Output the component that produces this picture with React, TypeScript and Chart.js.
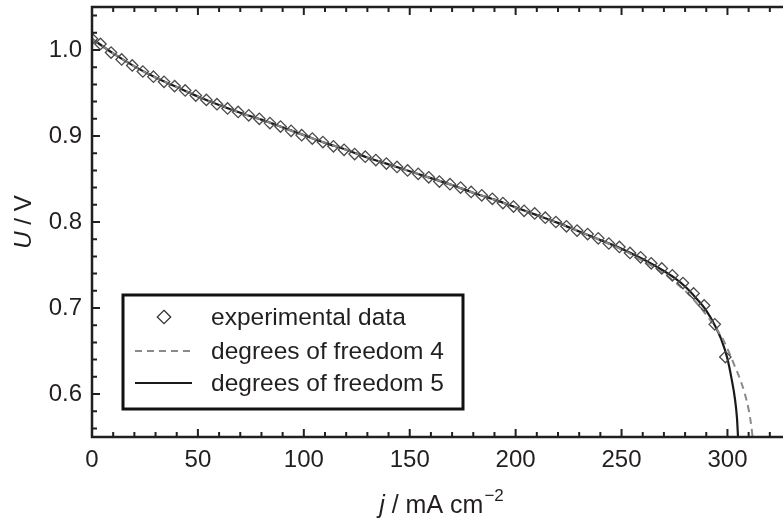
import React, { useEffect, useRef } from 'react';
import { Chart, registerables } from 'chart.js';

Chart.register(...registerables);

// ---------- data ----------
const expJ = [
  0, 4, 9, 14, 19, 24, 29, 34, 39, 44, 49, 54, 59, 64, 69, 74, 79, 84, 89, 94,
  99, 104, 109, 114, 119, 124, 129, 134, 139, 144, 149, 154, 159, 164, 169, 174,
  179, 184, 189, 194, 199, 204, 209, 214, 219, 224, 229, 234, 239, 244, 249, 254,
  259, 264, 269, 274, 279, 284, 289, 294, 299,
];
const expU = [
  1.013, 1.007, 0.997, 0.989, 0.982, 0.975, 0.969, 0.963, 0.958, 0.953, 0.947,
  0.942, 0.937, 0.932, 0.928, 0.924, 0.92, 0.915, 0.911, 0.906, 0.901, 0.897,
  0.893, 0.888, 0.884, 0.879, 0.876, 0.872, 0.868, 0.864, 0.86, 0.856, 0.852,
  0.847, 0.844, 0.84, 0.835, 0.831, 0.827, 0.822, 0.818, 0.813, 0.81, 0.805,
  0.8, 0.795, 0.79, 0.786, 0.781, 0.775, 0.771, 0.764, 0.759, 0.752, 0.746,
  0.738, 0.729, 0.717, 0.703, 0.681, 0.643,
];

const dof4J = [
  0, 10, 20, 30, 40, 50, 60, 70, 80, 90, 100, 110, 120, 130, 140, 150, 160, 170,
  180, 190, 200, 210, 220, 230, 240, 250, 260, 270, 280, 285, 290, 295, 298, 301,
  303, 306, 308, 310, 311.3, 312.3,
];
const dof4U = [
  1.013, 0.996, 0.981, 0.968, 0.957, 0.946, 0.936, 0.927, 0.919, 0.91, 0.901,
  0.892, 0.884, 0.875, 0.867, 0.859, 0.851, 0.843, 0.834, 0.826, 0.817, 0.808,
  0.799, 0.789, 0.779, 0.768, 0.755, 0.74, 0.72, 0.707, 0.692, 0.675, 0.663,
  0.647, 0.635, 0.617, 0.602, 0.582, 0.562, 0.54,
];

const dof5J = [
  0, 10, 20, 30, 40, 50, 60, 70, 80, 90, 100, 110, 120, 130, 140, 150, 160, 170,
  180, 190, 200, 210, 220, 230, 240, 250, 260, 270, 275, 280, 285, 290, 294, 297,
  300, 302, 303.5, 304.5, 305.2,
];
const dof5U = [
  1.013, 0.996, 0.981, 0.968, 0.957, 0.946, 0.936, 0.927, 0.919, 0.91, 0.901,
  0.892, 0.884, 0.875, 0.867, 0.859, 0.851, 0.843, 0.834, 0.826, 0.817, 0.808,
  0.799, 0.789, 0.779, 0.769, 0.757, 0.743, 0.735, 0.725, 0.712, 0.697, 0.68,
  0.664, 0.641, 0.617, 0.595, 0.572, 0.54,
];

const seriesLabels = ['experimental data', 'degrees of freedom 4', 'degrees of freedom 5'];
const xTickLabels = [0, 50, 100, 150, 200, 250, 300];
const yTickLabels = [0.6, 0.7, 0.8, 0.9, 1.0];
const xRange = [0, 330];
const yRange = [0.55, 1.05];
const xMinorStep = 10;
const yMinorStep = 0.02;
const yTitleParts = ['U', ' / V'];
const xTitleParts = ['j', ' / mA cm', '\u22122'];

// ---------- styles ----------
const FONT = '"Liberation Sans", Arial, Helvetica, sans-serif';
const INK = '#231f20';

const framePlugin = {
  id: 'frame',
  afterDatasetsDraw(chart: any) {
    const { ctx, chartArea: ca } = chart;
    const xs = chart.scales.x;
    const ys = chart.scales.y;
    ctx.save();
    ctx.strokeStyle = INK;
    ctx.lineWidth = 2.5;
    ctx.strokeRect(ca.left, ca.top, ca.right - ca.left, ca.bottom - ca.top);
    ctx.lineWidth = 2;
    ctx.beginPath();
    const nx = Math.round((xRange[1] - xRange[0]) / xMinorStep);
    for (let i = 1; i < nx; i++) {
      const v = xRange[0] + i * xMinorStep;
      const major = Math.abs(v % 50) < 1e-6;
      const len = major ? 8 : 5;
      const px = xs.getPixelForValue(v);
      ctx.moveTo(px, ca.bottom);
      ctx.lineTo(px, ca.bottom - len);
      ctx.moveTo(px, ca.top);
      ctx.lineTo(px, ca.top + len);
    }
    const ny = Math.round((yRange[1] - yRange[0]) / yMinorStep);
    for (let i = 0; i <= ny; i++) {
      const v = yRange[0] + 0.01 + i * yMinorStep;
      if (v >= yRange[1]) break;
      const major = Math.abs(Math.round(v * 10) - v * 10) < 1e-6;
      const len = major ? 8 : 5;
      const py = ys.getPixelForValue(v);
      ctx.moveTo(ca.left, py);
      ctx.lineTo(ca.left + len, py);
      ctx.moveTo(ca.right, py);
      ctx.lineTo(ca.right - len, py);
    }
    ctx.stroke();
    ctx.restore();
  },
};

const legendPlugin = {
  id: 'boxLegend',
  afterDraw(chart: any) {
    const { ctx, chartArea: ca } = chart;
    const ds = chart.data.datasets;
    const left = ca.left + 31;
    const top = ca.top + 288;
    const w = 340;
    const h = 114;
    ctx.save();
    ctx.fillStyle = '#ffffff';
    ctx.fillRect(left, top, w, h);
    ctx.strokeStyle = '#111';
    ctx.lineWidth = 3;
    ctx.strokeRect(left, top, w, h);
    const rows = [top + 22, top + 56, top + 88];
    const mx = left + 41;
    ds.forEach((d: any, i: number) => {
      const y = rows[i];
      ctx.save();
      if (i === 0) {
        const r = 6.7;
        ctx.strokeStyle = '#333';
        ctx.lineWidth = 1.3;
        ctx.beginPath();
        ctx.moveTo(mx, y - r);
        ctx.lineTo(mx + r, y);
        ctx.lineTo(mx, y + r);
        ctx.lineTo(mx - r, y);
        ctx.closePath();
        ctx.stroke();
      } else {
        ctx.strokeStyle = d.borderColor;
        ctx.lineWidth = d.borderWidth;
        ctx.setLineDash(d.borderDash || []);
        ctx.beginPath();
        ctx.moveTo(left + 12, y);
        ctx.lineTo(left + 69, y);
        ctx.stroke();
      }
      ctx.restore();
      ctx.fillStyle = INK;
      ctx.font = `24.5px ${FONT}`;
      ctx.textBaseline = 'middle';
      ctx.textAlign = 'left';
      ctx.fillText(d.label, left + 88, y + 1);
    });
    ctx.restore();
  },
};

const titlePlugin = {
  id: 'axisTitles',
  afterDraw(chart: any) {
    const { ctx, chartArea: ca } = chart;
    ctx.save();
    ctx.fillStyle = INK;
    ctx.textBaseline = 'middle';
    ctx.textAlign = 'left';
    // y title
    const itY = `italic 24px ${FONT}`;
    const rgY = `24px ${FONT}`;
    ctx.save();
    ctx.translate(24, (ca.top + ca.bottom) / 2);
    ctx.rotate(-Math.PI / 2);
    ctx.font = itY;
    const w1 = ctx.measureText(yTitleParts[0]).width;
    ctx.font = rgY;
    const w2 = ctx.measureText(yTitleParts[1]).width;
    let x = -(w1 + w2) / 2;
    ctx.font = itY;
    ctx.fillText(yTitleParts[0], x, 0);
    x += w1;
    ctx.font = rgY;
    ctx.fillText(yTitleParts[1], x, 0);
    ctx.restore();
    // x title
    const it = `italic 25px ${FONT}`;
    const rg = `25px ${FONT}`;
    const sup = `17px ${FONT}`;
    ctx.font = it;
    const a = ctx.measureText(xTitleParts[0]).width;
    ctx.font = rg;
    const b = ctx.measureText(xTitleParts[1]).width;
    ctx.font = sup;
    const c = ctx.measureText(xTitleParts[2]).width;
    const cx = 441;
    const cy = 506;
    let px = cx - (a + b + c) / 2;
    ctx.font = it;
    ctx.fillText(xTitleParts[0], px, cy);
    px += a;
    ctx.font = rg;
    ctx.fillText(xTitleParts[1], px, cy);
    px += b;
    ctx.font = sup;
    ctx.fillText(xTitleParts[2], px + 1, cy - 10);
    ctx.restore();
  },
};

export default function App() {
  const ref = useRef<HTMLCanvasElement>(null);
  useEffect(() => {
    const toXY = (xs: number[], ys: number[]) => xs.map((v, i) => ({ x: v, y: ys[i] }));
    const chart = new Chart(ref.current as HTMLCanvasElement, {
      type: 'scatter',
      data: {
        datasets: [
          {
            label: seriesLabels[0],
            data: toXY(expJ, expU),
            showLine: false,
            pointStyle: 'rectRot',
            pointRadius: 5.7,
            pointHoverRadius: 5.7,
            pointBorderWidth: 1.3,
            borderColor: '#4a4a4a',
            backgroundColor: 'rgba(0,0,0,0)',
          },
          {
            label: seriesLabels[1],
            data: toXY(dof4J, dof4U),
            showLine: true,
            pointRadius: 0,
            borderColor: '#8a8a8a',
            borderWidth: 2,
            borderDash: [7, 5],
            cubicInterpolationMode: 'monotone',
            backgroundColor: 'rgba(0,0,0,0)',
          },
          {
            label: seriesLabels[2],
            data: toXY(dof5J, dof5U),
            showLine: true,
            pointRadius: 0,
            borderColor: '#1a1a1a',
            borderWidth: 2.2,
            cubicInterpolationMode: 'monotone',
            backgroundColor: 'rgba(0,0,0,0)',
          },
        ],
      } as any,
      options: {
        animation: false,
        responsive: false,
        devicePixelRatio: 1,
        layout: { padding: { left: 0, top: 6, right: 9, bottom: 0 } },
        plugins: {
          legend: { display: false },
          tooltip: { enabled: false },
        },
        scales: {
          x: {
            type: 'linear',
            min: xRange[0],
            max: xRange[1],
            grid: { display: false, drawTicks: false },
            border: { display: false },
            afterBuildTicks: (s: any) => {
              s.ticks = xTickLabels.map((v) => ({ value: v }));
            },
            afterFit: (s: any) => {
              s.height = 87;
              s.paddingLeft = 0;
              s.paddingRight = 0;
            },
            ticks: {
              autoSkip: false,
              maxRotation: 0,
              padding: 9,
              color: INK,
              font: { family: FONT, size: 24 },
              callback: (v: any) => String(v),
            },
          },
          y: {
            type: 'linear',
            min: yRange[0],
            max: yRange[1],
            grid: { display: false, drawTicks: false },
            border: { display: false },
            afterBuildTicks: (s: any) => {
              s.ticks = yTickLabels.map((v) => ({ value: v }));
            },
            afterFit: (s: any) => {
              s.width = 92;
              s.paddingTop = 0;
              s.paddingBottom = 0;
            },
            ticks: {
              autoSkip: false,
              padding: 10,
              color: INK,
              font: { family: FONT, size: 24 },
              callback: (v: any) => Number(v).toFixed(1),
            },
          },
        },
      } as any,
      plugins: [framePlugin, legendPlugin, titlePlugin],
    });
    return () => chart.destroy();
  }, []);

  return (
    <div
      style={{
        position: 'fixed',
        left: 0,
        top: 0,
        width: 783,
        height: 524,
        overflow: 'hidden',
        background: '#ffffff',
      }}
    >
      <canvas ref={ref} width={800} height={524} style={{ display: 'block', width: 800, height: 524 }} />
    </div>
  );
}
